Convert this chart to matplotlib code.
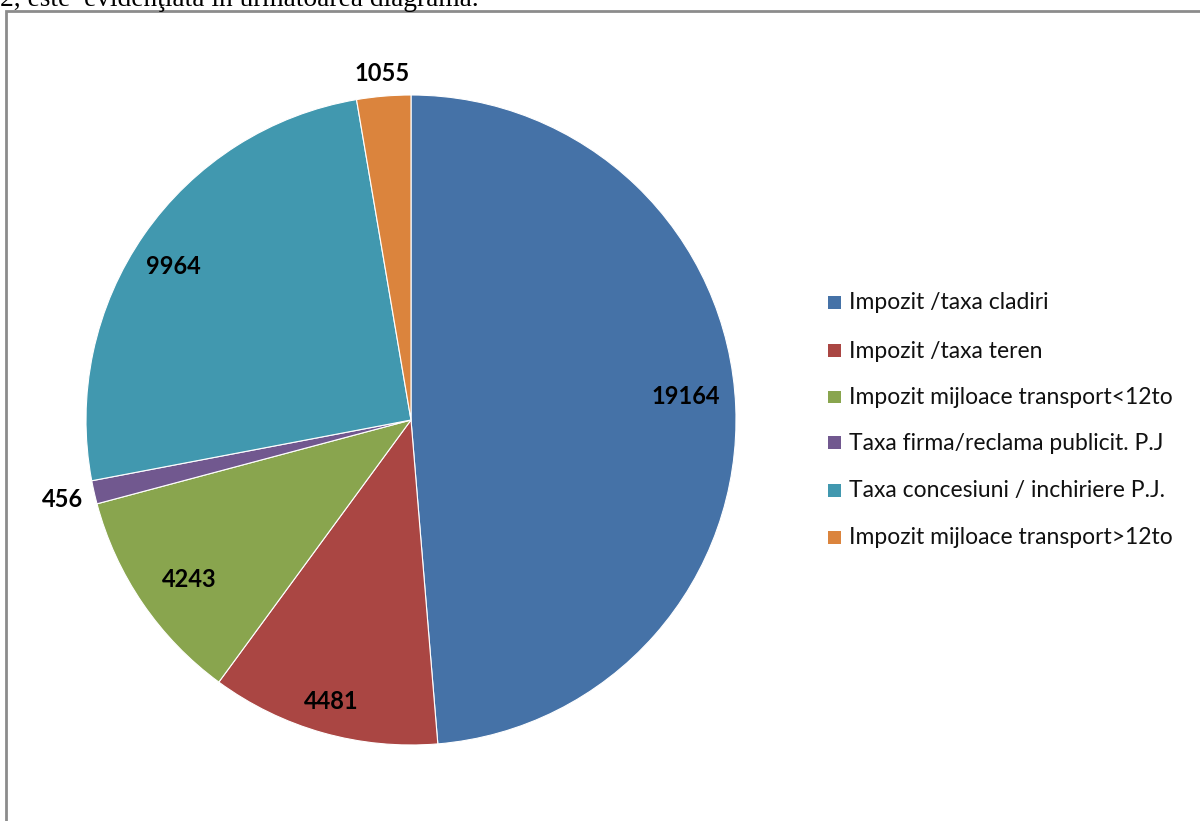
import numpy as np
import matplotlib.pyplot as plt
from matplotlib.patches import Rectangle

# Data
categories = ['Impozit /taxa cladiri', 'Impozit /taxa teren',
              'Impozit mijloace transport<12to', 'Taxa firma/reclama publicit. P.J',
              'Taxa concesiuni / inchiriere P.J.', 'Impozit mijloace transport>12to']
values = [19164, 4481, 4243, 456, 9964, 1055]
colors = ['#4572A7', '#AA4643', '#89A54E', '#71588F', '#4198AF', '#DB843D']
label_dist = [0.85, 0.9, 0.84, 1.1, 0.87, 1.07]
label_shift = [2.6, 0, 1.5, 0, 2.0, 0]   # degrees, like Excel's best fit

W, H = 1200, 821
fig = plt.figure(figsize=(W / 100, H / 100), dpi=100)

# cut-off text line above the chart
fig.text(0.0, 1 - 6 / H, '2, este  evidenţiată în următoarea diagramă.',
         family='Liberation Serif', fontsize=19.7, va='baseline', ha='left')

# chart frame (open at right and bottom)
frame_top = 1 - 11 / H
fig.add_artist(Rectangle((6 / W, -0.5), 1.2, 0.5 + frame_top, transform=fig.transFigure,
                         fill=False, edgecolor='#8c8c8c', linewidth=2))

# pie
cx, cy, r = 411, 420, 325
ax = fig.add_axes([(cx - r) / W, (H - cy - r) / H, 2 * r / W, 2 * r / H])
wedges, _ = ax.pie(values, colors=colors, startangle=90, counterclock=False,
                   wedgeprops=dict(linewidth=0.8, edgecolor='white'))
ax.set_xlim(-1, 1)
ax.set_ylim(-1, 1)
ax.set_aspect('equal')

for w, v, d, s in zip(wedges, values, label_dist, label_shift):
    ang = np.deg2rad((w.theta1 + w.theta2) / 2 + s)
    ax.text(d * np.cos(ang), d * np.sin(ang), str(v), ha='center', va='center',
            fontsize=17, fontweight='bold', family='Lato')

# legend
ys = [302, 351, 397, 443, 490, 537]
for c, name, y in zip(colors, categories, ys):
    fig.add_artist(Rectangle((828 / W, 1 - (y + 6.5) / H), 13 / W, 13 / H,
                             transform=fig.transFigure, facecolor=c, edgecolor='none'))
    fig.text(849 / W, 1 - y / H, name, fontsize=16.5, family='Lato',
             va='center', ha='left', color='#111111')

fig.savefig('out.png', dpi=100)
